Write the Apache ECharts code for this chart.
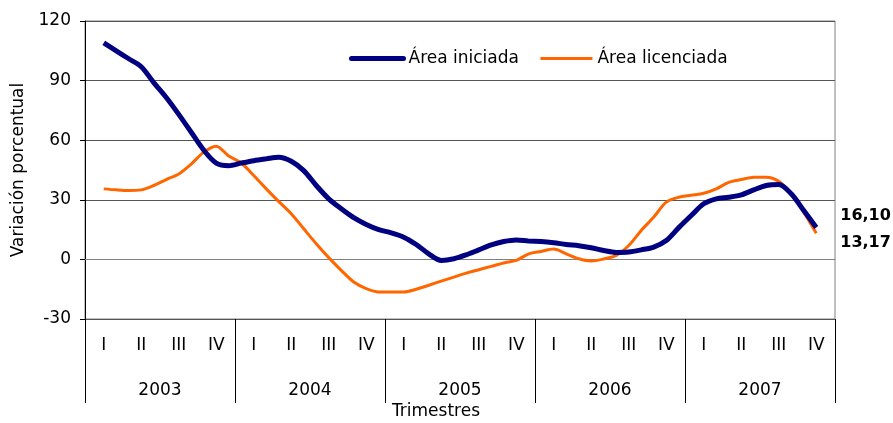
<!DOCTYPE html>
<html>
<head>
<meta charset="utf-8">
<script src="https://cdn.jsdelivr.net/npm/echarts@6/dist/echarts.min.js"></script>
<style>
  html, body { margin: 0; padding: 0; background: #fff; }
  #chart { width: 893px; height: 423px; }
</style>
</head>
<body>
<div id="chart"></div>
<script>
// tick labels
var quarters = ["I", "II", "III", "IV"];
var years = ["2003", "2004", "2005", "2006", "2007"];
var yTicks = [-30, 0, 30, 60, 90, 120];

// monthly points, Feb 2003 .. Nov 2007 (first and last month empty)
var areaIniciada = [null,
  109, 105, 101, 97, 89, 81.5, 73, 64, 55, 48.5, 47.2,
  48.5, 49.7, 50.6, 51.4, 49.4, 44.7, 37.2, 30.5, 25.5, 21, 17.6, 15,
  13.4, 11.2, 7.5, 2.8, -0.5, 0.3, 2.3, 4.8, 7.3, 9, 9.8, 9.2,
  9, 8.4, 7.5, 6.9, 5.9, 4.5, 3.5, 3.7, 4.8, 6.2, 9.5, 16,
  22.1, 28, 30.5, 31.3, 32.5, 35, 37.2, 37.7, 33, 24.6, 16.10,
  null];
var areaLicenciada = [null,
  35.5, 35, 34.7, 35, 37.2, 40.2, 43, 48, 54, 57, 52,
  48.5, 42.2, 35.5, 29.1, 23, 15.4, 7.9, 0.9, -5.5, -11.4, -14.7, -16.4,
  -16.4, -16.4, -15, -13, -10.9, -8.9, -6.9, -5.2, -3.5, -1.8, -0.5, 2.8,
  4, 5.2, 2.8, 0.3, -0.8, 0.2, 2, 7, 14.6, 21.3, 28.8, 31.3,
  32.3, 33.3, 35.5, 38.8, 40.2, 41.4, 41.4, 39.3, 33, 23.8, 13.17,
  null];

// one category per month, quarter label on the middle month
var months = [];
for (var y = 0; y < years.length; y++) {
  for (var m = 0; m < 12; m++) {
    months.push(m % 3 === 1 ? quarters[Math.floor(m / 3)] : "");
  }
}

var font = "DejaVu Sans";

function endText(p) {
  return Number(p.value).toFixed(2).replace(".", ",");
}

var option = {
  animation: false,
  textStyle: { fontFamily: font, fontSize: 17, color: "#000" },
  grid: {
    left: 85, right: 58, top: 21, bottom: 104,
    show: true, borderColor: "#808080", borderWidth: 1
  },
  legend: {
    left: 344, top: 45,
    itemWidth: 52, itemHeight: 16, itemGap: 20,
    itemStyle: { opacity: 0 },
    textStyle: { fontFamily: font, fontSize: 17, color: "#000" },
    data: [
      { name: "Área iniciada", lineStyle: { width: 5, cap: "round" } },
      { name: "Área licenciada", lineStyle: { width: 3 } }
    ]
  },
  xAxis: [{
    type: "category",
    data: months,
    axisLine: { show: true, lineStyle: { color: "#808080", width: 1 } },
    axisTick: { show: false },
    splitLine: { show: false },
    axisLabel: {
      interval: function (index) { return index % 3 === 1; },
      margin: 18,
      fontFamily: font, fontSize: 17, color: "#000"
    }
  }, {
    type: "category",
    data: years,
    position: "bottom",
    axisLine: { show: false },
    axisTick: { show: true, length: 84, lineStyle: { color: "#000" } },
    axisLabel: { margin: 63, fontFamily: font, fontSize: 17, color: "#000" }
  }],
  yAxis: {
    type: "value",
    min: yTicks[0],
    max: yTicks[yTicks.length - 1],
    interval: 30,
    name: "Variación porcentual",
    nameLocation: "middle",
    nameGap: 58,
    nameTextStyle: { fontFamily: font, fontSize: 17, color: "#000" },
    axisLine: { show: true, lineStyle: { color: "#000", width: 1 } },
    axisTick: { show: true, length: 5, lineStyle: { color: "#000" } },
    axisLabel: { margin: 14, fontFamily: font, fontSize: 17, color: "#000" },
    splitLine: { show: true, lineStyle: { color: "#555", width: 1 } }
  },
  series: [{
    name: "Área iniciada",
    type: "line",
    data: areaIniciada,
    smooth: 0.3,
    symbol: "none",
    lineStyle: { color: "#000080", width: 5 },
    itemStyle: { color: "#000080" },
    endLabel: {
      show: true, formatter: endText, distance: 24, offset: [0, -12],
      fontFamily: font, fontSize: 16, fontWeight: "bold", color: "#000"
    },
    z: 3
  }, {
    name: "Área licenciada",
    type: "line",
    data: areaLicenciada,
    smooth: 0.3,
    symbol: "none",
    lineStyle: { color: "#FF6600", width: 3 },
    itemStyle: { color: "#FF6600" },
    endLabel: {
      show: true, formatter: endText, distance: 24, offset: [0, 10],
      fontFamily: font, fontSize: 16, fontWeight: "bold", color: "#000"
    },
    z: 2
  }],
  graphic: [{
    type: "text",
    x: 436, y: 412,
    style: {
      text: "Trimestres", fontFamily: font, fontSize: 17, fill: "#000",
      align: "center", verticalAlign: "middle"
    }
  }]
};

var myChart = echarts.init(document.getElementById("chart"));
myChart.setOption(option);
</script>
</body>
</html>
